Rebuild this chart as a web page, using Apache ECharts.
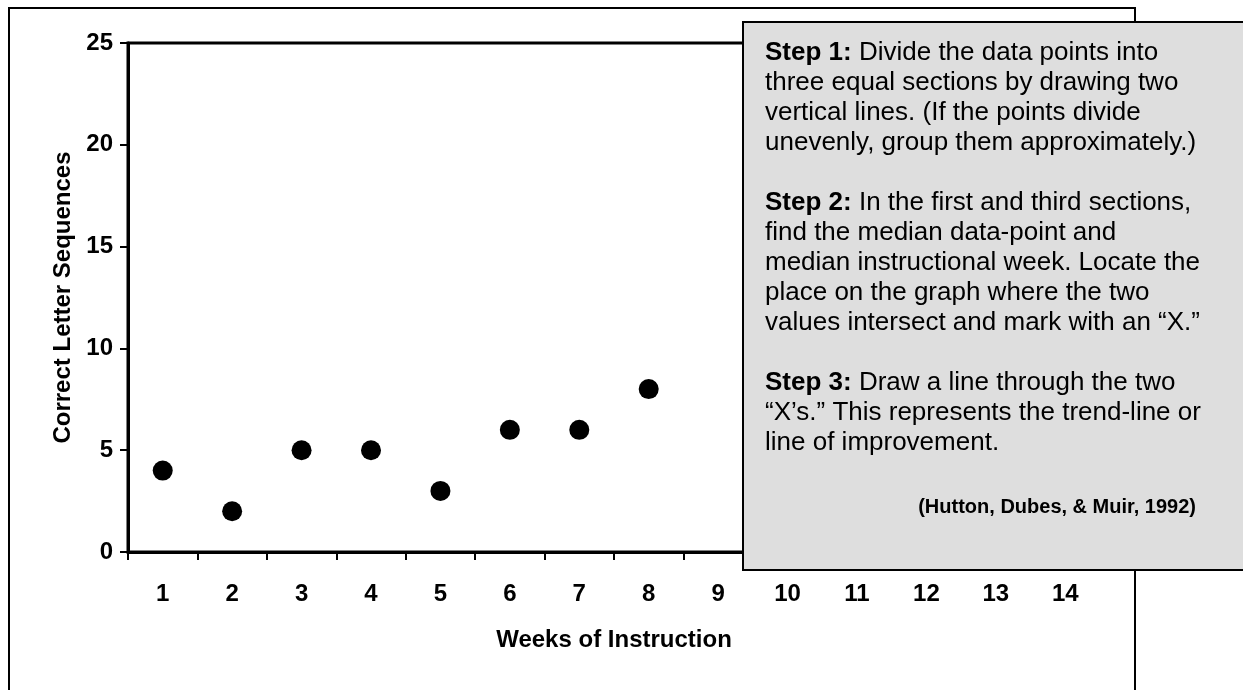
<!DOCTYPE html>
<html>
<head>
<meta charset="utf-8">
<script src="https://cdn.jsdelivr.net/npm/echarts@6/dist/echarts.min.js"></script>
<style>
html, body { margin: 0; padding: 0; background: #fff; }
#chartArea { width: 1243px; height: 690px; }
</style>
</head>
<body>
<div id="chartArea"></div>
<script>
var weeks = ['1', '2', '3', '4', '5', '6', '7', '8', '9', '10', '11', '12', '13', '14'];
var sequences = [4, 2, 5, 5, 3, 6, 6, 8];
var stepLines = [
    '{b|Step 1:} Divide the data points into',
    'three equal sections by drawing two',
    'vertical lines. (If the points divide',
    'unevenly, group them approximately.)',
    '',
    '{b|Step 2:} In the first and third sections,',
    'find the median data-point and',
    'median instructional week. Locate the',
    'place on the graph where the two',
    'values intersect and mark with an \u201cX.\u201d',
    '',
    '{b|Step 3:} Draw a line through the two',
    '\u201cX\u2019s.\u201d This represents the trend-line or',
    'line of improvement.'
];
var citation = '(Hutton, Dubes, & Muir, 1992)';

var fontFamily = '"Liberation Sans", Arial, sans-serif';
var labelStyle = {
    color: '#000',
    fontFamily: fontFamily,
    fontWeight: 'bold',
    fontSize: 24
};

var myChart = echarts.init(document.getElementById('chartArea'));

myChart.setOption({
    animation: false,
    backgroundColor: '#fff',
    grid: {
        left: 128,
        right: 143,
        top: 43,
        bottom: 138,
        show: true,
        borderColor: '#000',
        borderWidth: 3,
        backgroundColor: 'transparent'
    },
    xAxis: {
        type: 'category',
        data: weeks,
        boundaryGap: true,
        name: 'Weeks of Instruction',
        nameLocation: 'middle',
        nameGap: 76,
        nameTextStyle: labelStyle,
        axisLine: { lineStyle: { color: '#000', width: 3 } },
        axisTick: { show: true, length: 8, lineStyle: { color: '#000', width: 2 } },
        axisLabel: Object.assign({ margin: 30 }, labelStyle),
        splitLine: { show: false }
    },
    yAxis: {
        type: 'value',
        min: 0,
        max: 25,
        interval: 5,
        name: 'Correct Letter Sequences',
        nameLocation: 'middle',
        nameGap: 32,
        nameTextStyle: labelStyle,
        axisLine: { show: true, lineStyle: { color: '#000', width: 3 } },
        axisTick: { show: true, length: 8, lineStyle: { color: '#000', width: 2 } },
        axisLabel: Object.assign({ margin: 15 }, labelStyle),
        splitLine: { show: false }
    },
    series: [{
        type: 'scatter',
        data: sequences,
        symbol: 'circle',
        symbolSize: 20,
        itemStyle: { color: '#000', opacity: 1 }
    }],
    graphic: [
        {
            type: 'rect',
            z: 0,
            shape: { x: 9, y: 8, width: 1126, height: 800 },
            style: { fill: 'transparent', stroke: '#000', lineWidth: 2 }
        },
        {
            type: 'rect',
            z: 100,
            shape: { x: 743, y: 22, width: 600, height: 548 },
            style: { fill: '#dedede', stroke: '#000', lineWidth: 2 }
        },
        {
            type: 'text',
            z: 101,
            x: 765,
            y: 38,
            style: {
                text: stepLines.join('\n'),
                fill: '#000',
                fontFamily: fontFamily,
                fontSize: 26,
                lineHeight: 30,
                rich: {
                    b: { fontWeight: 'bold', fontSize: 26, fontFamily: fontFamily, lineHeight: 30 }
                }
            }
        },
        {
            type: 'text',
            z: 101,
            x: 1196,
            y: 497,
            style: {
                text: citation,
                fill: '#000',
                align: 'right',
                fontFamily: fontFamily,
                fontWeight: 'bold',
                fontSize: 20
            }
        }
    ]
});
</script>
</body>
</html>
